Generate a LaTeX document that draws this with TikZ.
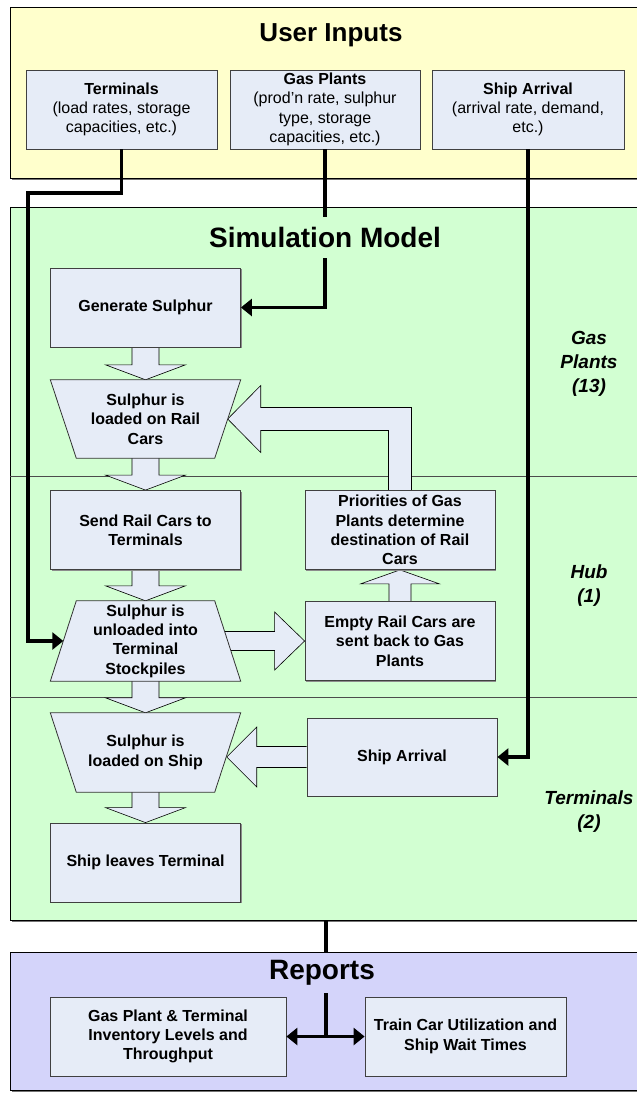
\documentclass[tikz,border=0pt]{standalone}
\usepackage{fontspec}
\setmainfont{Liberation Sans}
\usetikzlibrary{calc,arrows.meta,shadows}
\pgfdeclarelayer{panels}
\pgfdeclarelayer{blocks}
\pgfsetlayers{panels,blocks,main}

\definecolor{inputyellow}{HTML}{FFFFCC}
\definecolor{simgreen}{HTML}{D2FFD2}
\definecolor{repblue}{HTML}{D4D4FA}
\definecolor{boxfill}{HTML}{E6ECF7}

\newcommand\boxfont{\fontsize{16}{19.3}\selectfont\bfseries}
\newcommand\plainfont{\fontsize{16}{19.3}\selectfont}
\newcommand\titlefont{\fontsize{26}{30}\selectfont\bfseries}
\newcommand\bigtitlefont{\fontsize{28}{32}\selectfont\bfseries}
\newcommand\lanefont{\fontsize{19}{24}\selectfont\bfseries\itshape}

% wide block arrow pointing down from #1 to #2
\newcommand\downblock[2]{%
  \filldraw[blockarrow] ($(#1.south)+(-13.5,0)$) -- ($(#2.north)+(-13.5,-15)$)
    -- ($(#2.north)+(-40,-15)$) -- (#2.north) -- ($(#2.north)+(40,-15)$)
    -- ($(#2.north)+(13.5,-15)$) -- ($(#1.south)+(13.5,0)$);}

\begin{document}
\begin{tikzpicture}[x=1pt,y=-1pt,
  panel/.style={draw=black, line width=0.9pt, inner sep=0pt, anchor=north west,
    drop shadow={shadow xshift=1.5pt, shadow yshift=-1.5pt, fill=black!55, opacity=1}},
  stepbox/.style={draw=black!75, line width=0.8pt, fill=boxfill, minimum width=190pt,
    minimum height=79pt, inner sep=2pt, align=center, font=\boxfont,
    drop shadow={shadow xshift=1pt, shadow yshift=-1pt, fill=black!45, opacity=1}},
  trapbox/.style={minimum width=190pt, minimum height=79pt, inner sep=2pt,
    align=center, font=\boxfont},
  trapshape/.style={draw=black!80, line width=0.8pt, fill=boxfill},
  blockarrow/.style={draw=black, line width=0.6pt, fill=boxfill},
  conn/.style={draw=black, line width=3.8pt},
  tip/.style={-{Triangle[length=11pt,width=17pt]}},
  title/.style={font=\titlefont, inner sep=0pt},
  lane/.style={font=\lanefont, align=center, inner sep=0pt},
  divider/.style={draw=black!70, line width=0.8pt}
]
\useasboundingbox (0,0) rectangle (637,1093);

% ---- background panels and lane dividers
\begin{pgfonlayer}{panels}
  \node[panel, fill=inputyellow, minimum width=628pt, minimum height=171pt] (inp) at (10,7) {};
  \node[panel, fill=simgreen, minimum width=628pt, minimum height=713pt] (simp) at (10,207) {};
  \node[panel, fill=repblue, minimum width=628pt, minimum height=138pt] (repp) at (10,952) {};
  \coordinate (d1) at (0,476);
  \coordinate (d2) at (0,697);
  \draw[divider] (simp.west |- d1) -- (simp.east |- d1);
  \draw[divider] (simp.west |- d2) -- (simp.east |- d2);
\end{pgfonlayer}

% ---- user input boxes
\node[stepbox, font=\plainfont, minimum width=191pt] (tin) at (121.5,109.5)
  {\textbf{Terminals}\\(load rates, storage\\capacities, etc.)};
\node[stepbox, font=\plainfont] (gin) at (325,109.5)
  {\textbf{Gas Plants}\\(prod’n rate, sulphur\\type, storage\\capacities, etc.)};
\node[stepbox, font=\plainfont, minimum width=192pt] (sin) at (528,109.5)
  {\textbf{Ship Arrival}\\(arrival rate, demand,\\etc.)};

% ---- simulation steps
\node[stepbox] (gen) at (145.5,307.5) {Generate Sulphur};
\node[trapbox, minimum height=78pt] (load) at (145.5,419) {Sulphur is\\loaded on Rail\\Cars};
\node[stepbox] (send) at (145.5,530) {Send Rail Cars to\\Terminals};
\node[stepbox] (prio) at (400,530) {Priorities of Gas\\Plants determine\\destination of Rail\\Cars};
\node[trapbox, minimum height=80pt] (unload) at (145.5,641) {Sulphur is\\unloaded into\\Terminal\\Stockpiles};
\node[stepbox] (empty) at (400,641) {Empty Rail Cars are\\sent back to Gas\\Plants};
\node[trapbox] (shipload) at (145.5,752.5) {Sulphur is\\loaded on Ship};
\node[stepbox, minimum height=78pt] (sarr) at (402,757) {Ship Arrival};
\node[stepbox] (leave) at (145.5,862.5) {Ship leaves Terminal};

% ---- report boxes
\node[stepbox, minimum width=236pt] (rep1) at (168,1036.5) {Gas Plant \& Terminal\\Inventory Levels and\\Throughput};
\node[stepbox, minimum width=201pt] (rep2) at (465.5,1036.5) {Train Car Utilization and\\Ship Wait Times};

% ---- block arrows and trapezoid outlines
\begin{pgfonlayer}{blocks}
  \downblock{gen}{load}
  \downblock{load}{send}
  \downblock{send}{unload}
  \downblock{unload}{shipload}
  \downblock{shipload}{leave}
  % unloaded cars go to the empty-car step
  \filldraw[blockarrow] ($(unload.east)+(-16,-9.5)$) -- ($(empty.west)+(-30,-9.5)$)
    -- ($(empty.west)+(-30,-29)$) -- (empty.west) -- ($(empty.west)+(-30,29)$)
    -- ($(empty.west)+(-30,9.5)$) -- ($(unload.east)+(-16,9.5)$);
  % empty cars feed the priority rule
  \filldraw[blockarrow] ($(empty.north)+(-11,0)$) -- ($(prio.south)+(-11,14)$)
    -- ($(prio.south)+(-39.5,14)$) -- (prio.south) -- ($(prio.south)+(39.5,14)$)
    -- ($(prio.south)+(11,14)$) -- ($(empty.north)+(11,0)$);
  % ship arrival triggers loading
  \coordinate (shiptip) at ($(sarr.west -| shipload.east)+(-14,0)$);
  \filldraw[blockarrow] ($(sarr.west)+(0,-10.5)$) -- ($(shiptip)+(30,-10.5)$)
    -- ($(shiptip)+(30,-30)$) -- (shiptip) -- ($(shiptip)+(30,30)$)
    -- ($(shiptip)+(30,10.5)$) -- ($(sarr.west)+(0,10.5)$);
  % bent arrow from the priority rule back to loading
  \coordinate (looptip) at ($(load.east)+(-13,0)$);
  \coordinate (loopcorner) at (prio.north |- looptip);
  \filldraw[blockarrow] ($(prio.north)+(-11.5,0)$) -- ($(loopcorner)+(-11.5,11.5)$)
    -- ($(looptip)+(33,11.5)$) -- ($(looptip)+(33,33.5)$) -- (looptip)
    -- ($(looptip)+(33,-33.5)$) -- ($(looptip)+(33,-11.5)$)
    -- ($(loopcorner)+(11.5,-11.5)$) -- ($(prio.north)+(11.5,0)$);
  % trapezoid steps
  \filldraw[trapshape] (load.north west) -- (load.north east)
    -- ($(load.south east)+(-26,0)$) -- ($(load.south west)+(26,0)$) -- cycle;
  \filldraw[trapshape] ($(unload.north west)+(26,0)$) -- ($(unload.north east)+(-26,0)$)
    -- (unload.south east) -- (unload.south west) -- cycle;
  \filldraw[trapshape] (shipload.north west) -- (shipload.north east)
    -- ($(shipload.south east)+(-26,0)$) -- ($(shipload.south west)+(26,0)$) -- cycle;
\end{pgfonlayer}

% ---- input connectors
\coordinate (tbend) at (28,193);
\draw[conn, tip] (tin.south) |- (tbend) |- ($(unload.west)+(13,0)$);
\draw[conn, tip] (gin.south) |- (gen.east);
\draw[conn, tip] (sin.south) |- (sarr.east);

% ---- output connectors
\coordinate (rj) at (326,1036.5);
\draw[conn] (simp.south -| rj) -- (rj);
\draw[conn, {Triangle[length=11pt,width=17pt]}-{Triangle[length=11pt,width=17pt]}] (rep1.east) -- (rep2.west);

% ---- titles
\node[title] (tinputs) at (331,35) {User Inputs};
\node[title, font=\bigtitlefont, fill=simgreen, minimum height=41pt, inner xsep=3pt] (tsim) at (325,237) {Simulation Model};
\node[title, font=\bigtitlefont, fill=repblue, minimum height=40pt, inner xsep=3pt] (trep) at (322,972.5) {Reports};

% ---- lane labels
\node[lane] (lgas) at (589,364) {Gas\\Plants\\(13)};
\node[lane] (lhub) at (589,586) {Hub\\(1)};
\node[lane] (lterm) at (589,811.5) {Terminals\\(2)};
\end{tikzpicture}
\end{document}
